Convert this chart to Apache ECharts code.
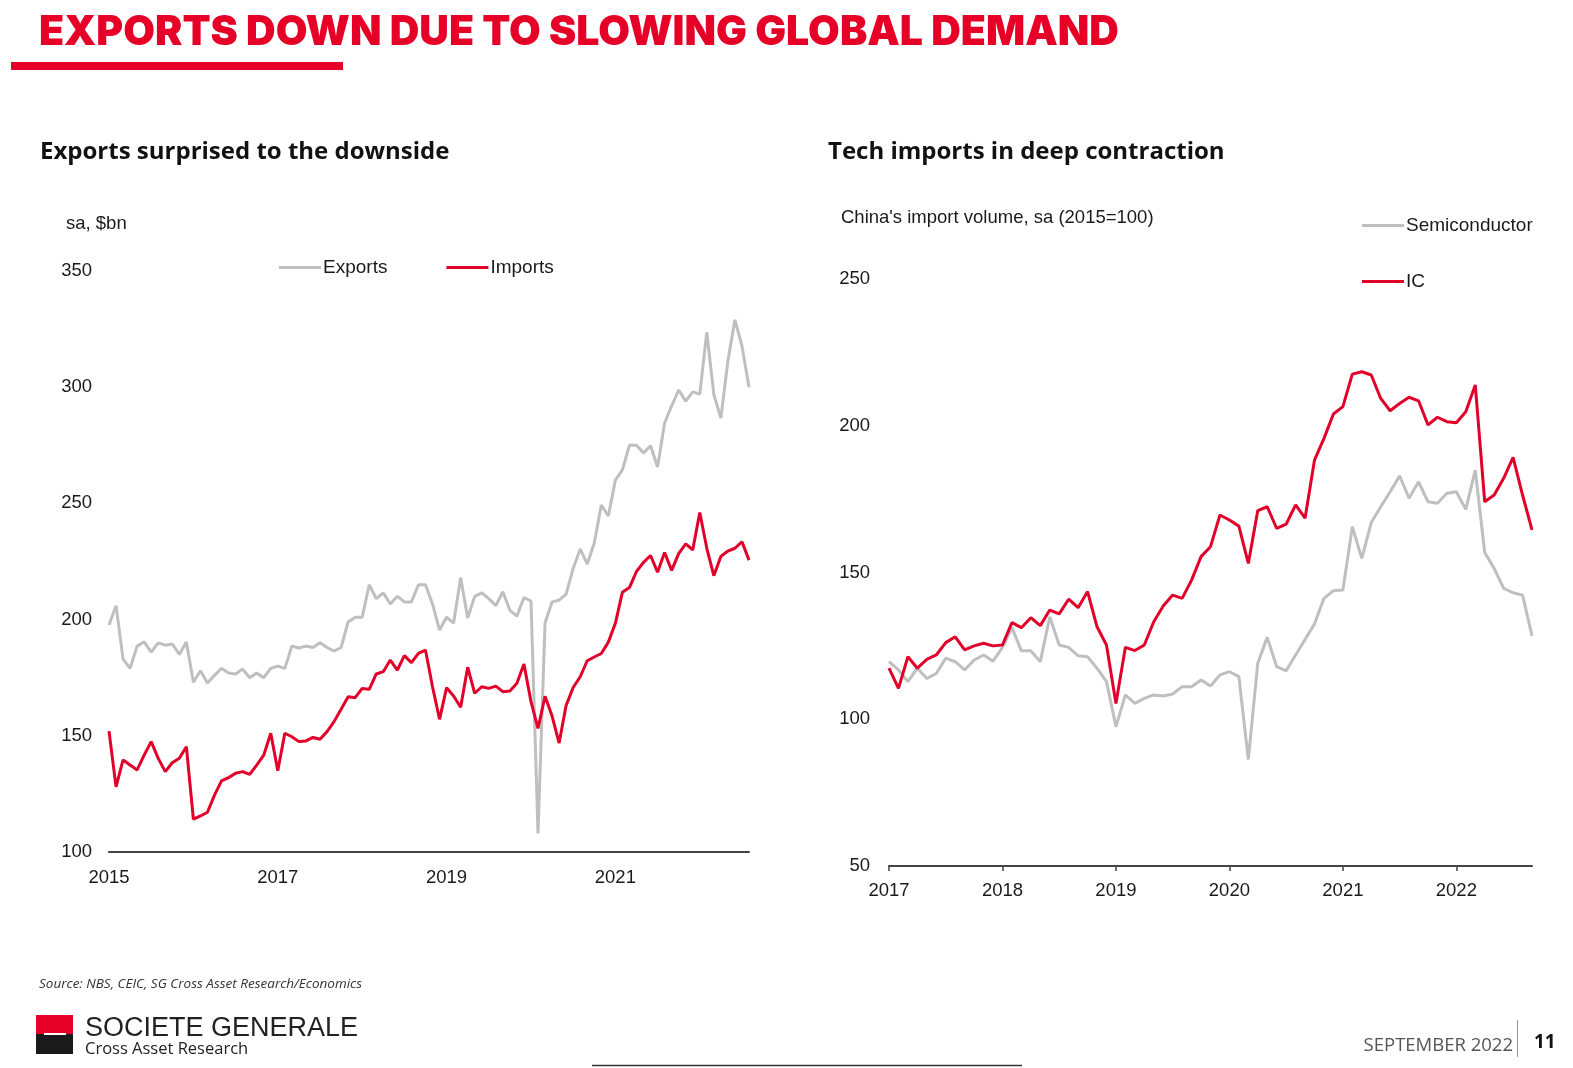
<!DOCTYPE html>
<html>
<head>
<meta charset="utf-8">
<script src="https://cdn.jsdelivr.net/npm/echarts@6/dist/echarts.min.js"></script>
<style>
html,body{margin:0;padding:0;background:#fff;}
#chart{width:1573px;height:1068px;}
</style>
</head>
<body>
<div id="chart"></div>
<script>
// ---------- DATA ----------
const leftStart = [2015, 1];   // Jan 2015
const rightStart = [2017, 1];  // Jan 2017
const leftTickYears = ['2015', '2017', '2019', '2021'];
const rightTickYears = ['2017', '2018', '2019', '2020', '2021', '2022'];

const exportsBn = [197.7,206,183,179,188.6,190.4,186,190,189,189.5,
  185,190.4,173,178,172.7,176,179,177,176.6,178.7,
  175,177,175,179,180,179,188.6,187.8,188.6,188,
  190,188,186.5,188,199,201,201,215,209,211.5,
  206.7,210,207.6,207.6,215,215,206.7,195.5,201,198.5,
  218,200.7,210,211.5,209,206,212,204,201.5,209.5,
  208,108,198.5,207.6,208.4,211,222,230.4,223.9,233,
  249.3,244.6,260,264.4,275,275,271.7,274.8,265.7,284.6,
  292,298.8,294,298,297,323.7,296.8,286.7,311.4,329,
  317.7,300];

const importsBn = [152,128,139.6,137.4,135.3,141.7,147.5,140.3,134.6,138.4,
  140.3,145.3,114.1,115.5,117.1,124.5,130.6,132.0,133.9,134.6,
  133.4,137.4,141.7,151.1,135.0,151.1,149.6,147.5,147.8,149.3,
  148.5,151.8,156.1,161.4,166.8,166.4,170.4,170.0,176.6,177.6,
  182.6,178.3,184.5,181.5,185.5,186.9,171.1,157.1,170.7,167.1,
  162.3,179.5,168.3,171.1,170.4,171.4,169.0,169.3,172.6,180.9,
  164.7,153.2,167.0,158.5,146.9,163.1,170.8,175.4,182.3,183.9,
  185.4,190.3,198.4,211.8,213.8,220.7,224.6,227.6,220.4,228.9,
  221.2,228.4,232.6,230.0,246.1,230.7,218.9,227.2,229.5,230.7,
  233.5,225.6];

const semiconductor = [119.6,116.8,112.8,117.4,113.9,115.6,120.8,119.6,116.8,120.2,
  121.9,119.8,124.5,131.2,123.3,123.3,119.6,134.9,125.3,124.5,
  121.6,121.3,117.4,112.8,97.5,108.3,105.4,107.1,108.3,107.9,
  108.6,111.1,111.1,113.4,111.3,115.1,116.2,114.5,86.3,119.1,
  127.9,117.9,116.5,121.9,127.2,132.5,141.2,143.8,144.0,165.6,
  154.8,167.0,172.4,177.5,182.9,175.3,180.9,174.1,173.6,177.0,
  177.5,171.5,184.9,156.8,151.4,144.6,143.1,142.3,128.4];

const icImports = [117.4,110.5,121.3,117.4,120.4,121.9,126.1,128.1,123.6,125.0,
  125.9,125.0,125.3,132.9,131.2,134.6,131.9,137.2,135.9,140.9,
  138.0,143.5,131.5,125.3,105.4,124.5,123.4,125.3,133.2,138.6,
  142.3,141.2,147.4,155.4,158.8,169.6,167.9,165.8,153.1,171.1,
  172.4,165.0,166.5,173.0,168.5,188.3,195.7,204.0,206.5,217.6,
  218.4,217.3,209.3,205.1,207.6,209.7,208.5,200.3,202.9,201.4,
  201.0,204.8,213.9,174.1,176.4,182.1,189.2,176.4,164.5];

// month category labels
function months(start, n) {
  const out = [];
  let y = start[0], m = start[1];
  for (let i = 0; i < n; i++) {
    out.push(y + '-' + String(m).padStart(2, '0'));
    m++; if (m > 12) { m = 1; y++; }
  }
  return out;
}
const leftMonths = months(leftStart, exportsBn.length);
const rightMonths = months(rightStart, semiconductor.length);

// ---------- STYLE ----------
const RED = '#E2002B';
const GREY = '#BFBFBF';
const SG_RED = '#E60028';
const labelFont = {fontFamily: 'Liberation Sans', fontSize: 18.5, color: '#1a1a1a'};
const legendText = {fontFamily: 'Liberation Sans', fontSize: 19, color: '#1a1a1a', padding: [0, 0, 0, -3]};

const chart = echarts.init(document.getElementById('chart'), null, {renderer: 'canvas'});

const option = {
  animation: false,
  backgroundColor: '#fff',
  grid: [
    {left: 109, top: 271, width: 640, height: 581},
    {left: 889, top: 279, width: 643, height: 587}
  ],
  xAxis: [
    {
      type: 'category', gridIndex: 0, data: leftMonths, boundaryGap: false,
      axisLine: {lineStyle: {color: '#444', width: 2}},
      axisTick: {show: false},
      axisLabel: Object.assign({}, labelFont, {
        margin: 16,
        interval: function (idx, val) { return leftTickYears.indexOf(val.slice(0, 4)) >= 0 && val.endsWith('-01'); },
        formatter: function (val) { return val.slice(0, 4); }
      }),
      splitLine: {show: false}
    },
    {
      type: 'category', gridIndex: 1, data: rightMonths, boundaryGap: false,
      axisLine: {lineStyle: {color: '#444', width: 2}},
      axisTick: {show: true, length: 5, lineStyle: {color: '#444', width: 1.5},
        interval: function (idx, val) { return val.endsWith('-01'); }},
      axisLabel: Object.assign({}, labelFont, {
        margin: 15,
        interval: function (idx, val) { return rightTickYears.indexOf(val.slice(0, 4)) >= 0 && val.endsWith('-01'); },
        formatter: function (val) { return val.slice(0, 4); }
      }),
      splitLine: {show: false}
    }
  ],
  yAxis: [
    {
      type: 'value', gridIndex: 0, min: 100, max: 350, interval: 50,
      axisLine: {show: false}, axisTick: {show: false}, splitLine: {show: false},
      axisLabel: Object.assign({}, labelFont, {margin: 17})
    },
    {
      type: 'value', gridIndex: 1, min: 50, max: 250, interval: 50,
      axisLine: {show: false}, axisTick: {show: false}, splitLine: {show: false},
      axisLabel: Object.assign({}, labelFont, {margin: 19})
    }
  ],
  legend: [
    {
      data: ['Exports', 'Imports'], left: 279, top: 258, orient: 'horizontal', padding: 0,
      icon: 'rect', itemWidth: 42, itemHeight: 3, itemGap: 59,
      textStyle: legendText
    },
    {
      data: ['Semiconductor', 'IC'], left: 1362, top: 216, orient: 'vertical', padding: 0,
      icon: 'rect', itemWidth: 42, itemHeight: 3, itemGap: 37,
      textStyle: legendText
    }
  ],
  series: [
    {name: 'Exports', type: 'line', xAxisIndex: 0, yAxisIndex: 0, data: exportsBn,
      showSymbol: false, symbol: 'none', lineStyle: {color: GREY, width: 3}, itemStyle: {color: GREY}, z: 2},
    {name: 'Imports', type: 'line', xAxisIndex: 0, yAxisIndex: 0, data: importsBn,
      showSymbol: false, symbol: 'none', lineStyle: {color: RED, width: 3}, itemStyle: {color: RED}, z: 3},
    {name: 'Semiconductor', type: 'line', xAxisIndex: 1, yAxisIndex: 1, data: semiconductor,
      showSymbol: false, symbol: 'none', lineStyle: {color: GREY, width: 3}, itemStyle: {color: GREY}, z: 2},
    {name: 'IC', type: 'line', xAxisIndex: 1, yAxisIndex: 1, data: icImports,
      showSymbol: false, symbol: 'none', lineStyle: {color: RED, width: 3}, itemStyle: {color: RED}, z: 3}
  ],
  graphic: [
    {type: 'text', left: 39, top: 12, style: {text: 'EXPORTS DOWN DUE TO SLOWING GLOBAL DEMAND',
      fill: SG_RED, font: '900 41px Inter'}},
    {type: 'rect', shape: {x: 11, y: 62, width: 332, height: 8}, style: {fill: SG_RED}},
    {type: 'text', left: 40, top: 140, style: {text: 'Exports surprised to the downside',
      fill: '#111', font: '700 24px "Open Sans"'}},
    {type: 'text', left: 828, top: 140, style: {text: 'Tech imports in deep contraction',
      fill: '#111', font: '700 24px "Open Sans"'}},
    {type: 'text', left: 66, top: 214, style: {text: 'sa, $bn', fill: '#1a1a1a', font: '18.5px "Liberation Sans"'}},
    {type: 'text', left: 841, top: 208, style: {text: "China's import volume, sa (2015=100)", fill: '#1a1a1a', font: '18.5px "Liberation Sans"'}},
    {type: 'text', left: 39, top: 977, style: {text: 'Source: NBS, CEIC, SG Cross Asset Research/Economics',
      fill: '#333', font: 'italic 13.5px "Open Sans"'}},
    {type: 'rect', shape: {x: 36, y: 1015, width: 37, height: 19}, style: {fill: SG_RED}},
    {type: 'rect', shape: {x: 36, y: 1034, width: 37, height: 20}, style: {fill: '#1a1a1a'}},
    {type: 'rect', shape: {x: 44, y: 1033, width: 22, height: 2}, style: {fill: '#fff'}},
    {type: 'text', left: 85, top: 1015, style: {text: 'SOCIETE GENERALE', fill: '#222', font: '27px "Liberation Sans"'}},
    {type: 'text', left: 85, top: 1041, style: {text: 'Cross Asset Research', fill: '#222', font: '16.5px "Open Sans"'}},
    {type: 'text', right: 60, top: 1036, style: {text: 'SEPTEMBER 2022', fill: '#555', font: '18.5px "Open Sans"'}},
    {type: 'line', shape: {x1: 1517.5, y1: 1020, x2: 1517.5, y2: 1057}, style: {stroke: '#999', lineWidth: 1}},
    {type: 'text', left: 1534, top: 1033, style: {text: '11', fill: '#111', font: '700 19px "Open Sans"'}},
    {type: 'line', shape: {x1: 592, y1: 1065.5, x2: 1022, y2: 1065.5}, style: {stroke: '#333', lineWidth: 1.5}}
  ]
};
chart.setOption(option);
</script>
</body>
</html>
